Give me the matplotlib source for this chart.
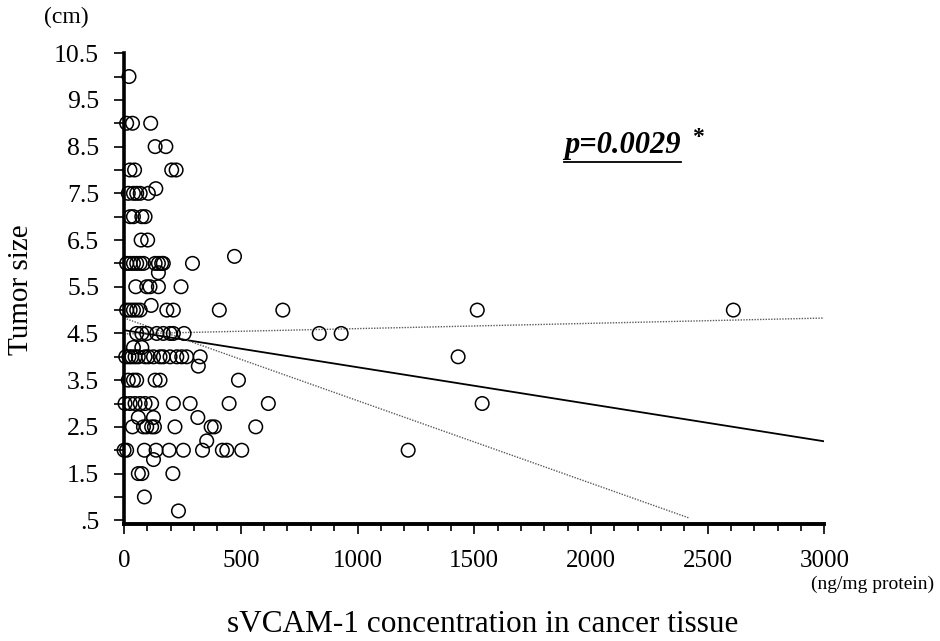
import matplotlib
matplotlib.use("Agg")
import matplotlib.pyplot as plt
from matplotlib.lines import Line2D
import numpy as np

# 散布図のデータ
conc = [21,
        11, 36, 114,
        133, 179,
        25, 45, 204, 223,
        136,
        18, 40, 54, 69, 104,
        26, 40, 76, 90,
        73, 101,
        473,
        11, 26, 40, 54, 69, 83, 133, 147, 161, 168, 293,
        147,
        50, 97, 111, 147, 244,
        116,
        11, 26, 40, 54, 69, 183, 211, 408, 680, 1513, 2610,
        54, 76, 97, 140, 168, 197, 211, 257, 836, 930,
        40, 76,
        7, 21, 33, 47, 61, 90, 104, 126, 154, 168, 197, 226, 247, 268, 326, 1431,
        318,
        18, 40, 54, 133, 154, 490,
        4, 26, 47, 69, 90, 118, 211, 283, 450, 618, 1534,
        61, 126, 316,
        36, 83, 97, 118, 130, 218, 373, 387, 564,
        354,
        0, 11, 87, 137, 193, 254, 336, 421, 440, 504, 1217,
        126,
        61, 76, 209,
        87,
        233]
size = [10.0,
        9.0, 9.0, 9.0,
        8.5, 8.5,
        8.0, 8.0, 8.0, 8.0,
        7.6,
        7.5, 7.5, 7.5, 7.5, 7.5,
        7.0, 7.0, 7.0, 7.0,
        6.5, 6.5,
        6.15,
        6.0, 6.0, 6.0, 6.0, 6.0, 6.0, 6.0, 6.0, 6.0, 6.0, 6.0,
        5.8,
        5.5, 5.5, 5.5, 5.5, 5.5,
        5.1,
        5.0, 5.0, 5.0, 5.0, 5.0, 5.0, 5.0, 5.0, 5.0, 5.0, 5.0,
        4.5, 4.5, 4.5, 4.5, 4.5, 4.5, 4.5, 4.5, 4.5, 4.5,
        4.2, 4.2,
        4.0, 4.0, 4.0, 4.0, 4.0, 4.0, 4.0, 4.0, 4.0, 4.0, 4.0, 4.0, 4.0, 4.0, 4.0, 4.0,
        3.8,
        3.5, 3.5, 3.5, 3.5, 3.5, 3.5,
        3.0, 3.0, 3.0, 3.0, 3.0, 3.0, 3.0, 3.0, 3.0, 3.0, 3.0,
        2.7, 2.7, 2.7,
        2.5, 2.5, 2.5, 2.5, 2.5, 2.5, 2.5, 2.5, 2.5,
        2.2,
        2.0, 2.0, 2.0, 2.0, 2.0, 2.0, 2.0, 2.0, 2.0, 2.0, 2.0,
        1.8,
        1.5, 1.5, 1.5,
        1.0,
        0.7]

# 回帰直線と信頼区間の線
fit_x = [0, 3000]
fit_y = [4.57, 2.19]
upper_x = [0, 3000]
upper_y = [4.49, 4.83]
lower_x = [0, 2420]
lower_y = [4.83, 0.55]

xticks = [0, 500, 1000, 1500, 2000, 2500, 3000]
yticks = [0.5, 1.5, 2.5, 3.5, 4.5, 5.5, 6.5, 7.5, 8.5, 9.5, 10.5]
ytick_labels = [".5", "1.5", "2.5", "3.5", "4.5", "5.5", "6.5", "7.5", "8.5", "9.5", "10.5"]

plt.rcParams["font.family"] = ["Liberation Serif", "DejaVu Serif"]

fig = plt.figure(figsize=(9.4, 6.41), dpi=100)
ax = fig.add_axes([0.132, 0.1825, 0.745, 0.7345])

ax.scatter(conc, size, s=95, facecolors="none", edgecolors="black", linewidths=1.1, zorder=3, clip_on=False)
ax.plot(fit_x, fit_y, color="black", lw=1.3, zorder=2)
ax.plot(upper_x, upper_y, color="0.35", lw=1.0, ls=(0, (1, 1)), zorder=2)
ax.plot(lower_x, lower_y, color="0.35", lw=1.0, ls=(0, (1, 1)), zorder=2)

ax.set_xlim(0, 3000)
ax.set_ylim(0.42, 10.5)
ax.spines["top"].set_visible(False)
ax.spines["right"].set_visible(False)
ax.spines["left"].set_linewidth(2.6)
ax.spines["bottom"].set_linewidth(2.8)
ax.spines["left"].set_bounds(0.42, 10.5)

ax.set_xticks(xticks)
ax.set_xticklabels([str(v) for v in xticks])
ax.set_xticks(np.arange(0, 3001, 100), minor=True)
ax.set_yticks(yticks)
ax.set_yticklabels(ytick_labels)
ax.set_yticks(np.arange(1, 10.6, 1.0), minor=True)
ax.tick_params(axis="both", which="major", direction="out", length=7, width=1.2, color="black")
ax.tick_params(axis="x", which="minor", direction="out", length=5, width=1.2)
ax.tick_params(axis="y", which="minor", direction="out", length=7, width=1.2)
ax.tick_params(axis="y", which="major", pad=11, labelsize=18.5)
ax.tick_params(axis="x", which="major", pad=12, labelsize=18)

fig.text(0.071, 0.972, "(cm)", fontsize=17, ha="center", va="center")
fig.text(0.022, 0.548, "Tumor size", fontsize=21, rotation=90, ha="center", va="center")
fig.text(0.513, 0.025, "sVCAM-1 concentration in cancer tissue", fontsize=22.5, ha="center", va="center")
fig.text(0.994, 0.089, "(ng/mg protein)", fontsize=14, ha="right", va="center")

ptxt = fig.text(0.662, 0.773, "p=0.0029", fontsize=22, fontweight="bold", fontstyle="italic",
                ha="center", va="center")
fig.text(0.742, 0.785, "*", fontsize=17, fontweight="bold", ha="center", va="center")

# 下線をテキストの幅に合わせて描く
fig.canvas.draw()
bb = ptxt.get_window_extent().transformed(fig.transFigure.inverted())
fig.add_artist(Line2D([bb.x0, bb.x1], [bb.y0 - 0.003, bb.y0 - 0.003], color="black", lw=1.3,
                      transform=fig.transFigure))

fig.savefig("out.png", dpi=100)
